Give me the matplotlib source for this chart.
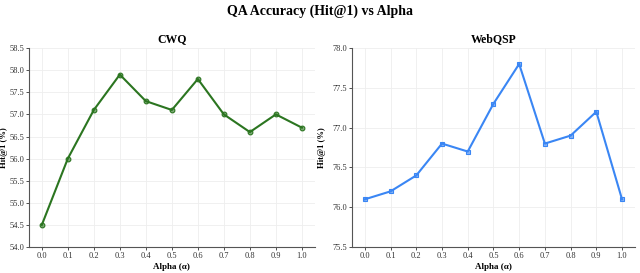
import matplotlib
matplotlib.use("Agg")
import matplotlib.pyplot as plt
from matplotlib.colors import to_rgba

# Veriler
alpha = [0.0, 0.1, 0.2, 0.3, 0.4, 0.5, 0.6, 0.7, 0.8, 0.9, 1.0]
cwq_hit1 = [54.5, 56.0, 57.1, 57.9, 57.3, 57.1, 57.8, 57.0, 56.6, 57.0, 56.7]
webqsp_hit1 = [76.1, 76.2, 76.4, 76.8, 76.7, 77.3, 77.8, 76.8, 76.9, 77.2, 76.1]

plt.rcParams["font.family"] = ["Liberation Serif", "DejaVu Serif"]

fig = plt.figure(figsize=(6.4, 2.73), dpi=100)
ax1 = fig.add_axes([0.045, 0.095, 0.447, 0.729])
ax2 = fig.add_axes([0.550, 0.095, 0.442, 0.729])

fig.suptitle("QA Accuracy (Hit@1) vs Alpha", fontsize=10, fontweight="bold", y=0.985)

panels = [
    (ax1, cwq_hit1, "CWQ", "#2b7520", "o", (54.0, 58.5), -0.072),
    (ax2, webqsp_hit1, "WebQSP", "#3a86f4", "s", (75.5, 78.0), -0.093),
]

for ax, values, title, color, marker, ylim, ylab_x in panels:
    ax.plot(alpha, values, color=color, linewidth=1.5, marker=marker, markersize=3.4,
            markerfacecolor=to_rgba(color, 0.6), markeredgecolor=color, markeredgewidth=0.8)
    ax.set_title(title, fontsize=8.5, fontweight="bold", pad=4)
    ax.set_xlabel("Alpha (α)", fontsize=6.5, fontweight="bold", labelpad=2)
    ax.set_ylabel("Hit@1 (%)", fontsize=6.2, fontweight="bold")
    ax.yaxis.set_label_coords(ylab_x, 0.5)
    ax.set_xlim(-0.05, 1.05)
    ax.set_ylim(*ylim)
    ax.set_xticks(alpha)
    ax.set_xticklabels([f"{a:.1f}" for a in alpha])
    ax.grid(True, color="#eeeeee", linewidth=0.6)
    ax.set_axisbelow(True)
    ax.tick_params(labelsize=6, length=2, width=0.6, colors="#333333", pad=1.5)
    for side in ["top", "right"]:
        ax.spines[side].set_visible(False)
    for side in ["left", "bottom"]:
        ax.spines[side].set_color("#555555")
        ax.spines[side].set_linewidth(0.8)

ax1.set_yticks([54.0, 54.5, 55.0, 55.5, 56.0, 56.5, 57.0, 57.5, 58.0, 58.5])
ax2.set_yticks([75.5, 76.0, 76.5, 77.0, 77.5, 78.0])
for ax in (ax1, ax2):
    ax.set_yticklabels([f"{t:.1f}" for t in ax.get_yticks()])

fig.savefig("out.png", dpi=100)
